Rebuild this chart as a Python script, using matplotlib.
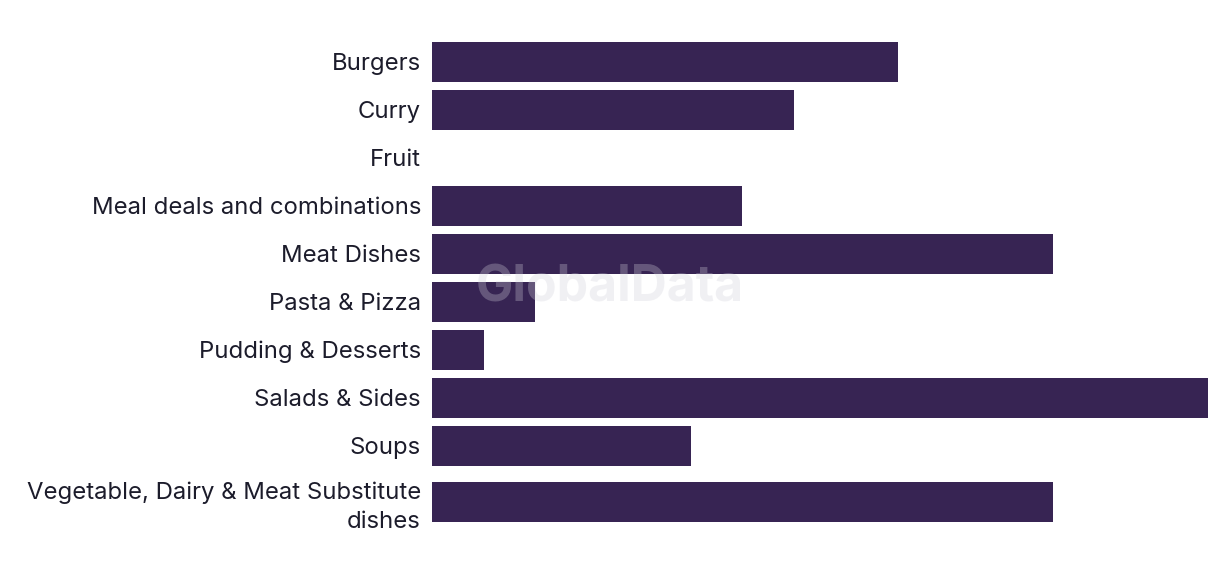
import matplotlib
matplotlib.use("Agg")
import matplotlib.pyplot as plt
import numpy as np

categories = ["Burgers", "Curry", "Fruit", "Meal deals and combinations", "Meat Dishes",
              "Pasta & Pizza", "Pudding & Desserts", "Salads & Sides", "Soups",
              "Vegetable, Dairy & Meat Substitute\ndishes"]
values = [9, 7, 0, 6, 12, 2, 1, 15, 5, 12]

plt.rcParams['font.family'] = ['Inter', 'DejaVu Sans']

fig = plt.figure(figsize=(12.2, 5.74), dpi=100)
W, H = 1220, 574
left, right, top, bottom = 432, 1208, 37.5, 533.5
ax = fig.add_axes([left / W, 1 - bottom / H, (right - left) / W, (bottom - top) / H])

# band heights depend on number of label lines
bands = [1 + (c.count("\n")) / 3 for c in categories]
edges = np.concatenate([[0], np.cumsum(bands)])
centers = (edges[:-1] + edges[1:]) / 2

ax.barh(centers, values, height=40 / 48, color="#372453")
ax.set_ylim(edges[-1], 0)
ax.set_xlim(0, max(values))
ax.set_yticks(centers)
ax.set_yticklabels(categories, fontsize=17.2, color="#1c1c2b", linespacing=1.38)
ax.tick_params(axis='y', length=0, pad=8)
ax.set_xticks([])
for s in ax.spines.values():
    s.set_visible(False)

fig.text(610 / W, 1 - 288 / H, "GlobalData", fontsize=36, fontweight="bold",
         color="#d0d0da", alpha=0.3, ha="center", va="center", zorder=10)

fig.savefig("out.png", dpi=100, facecolor="white")
